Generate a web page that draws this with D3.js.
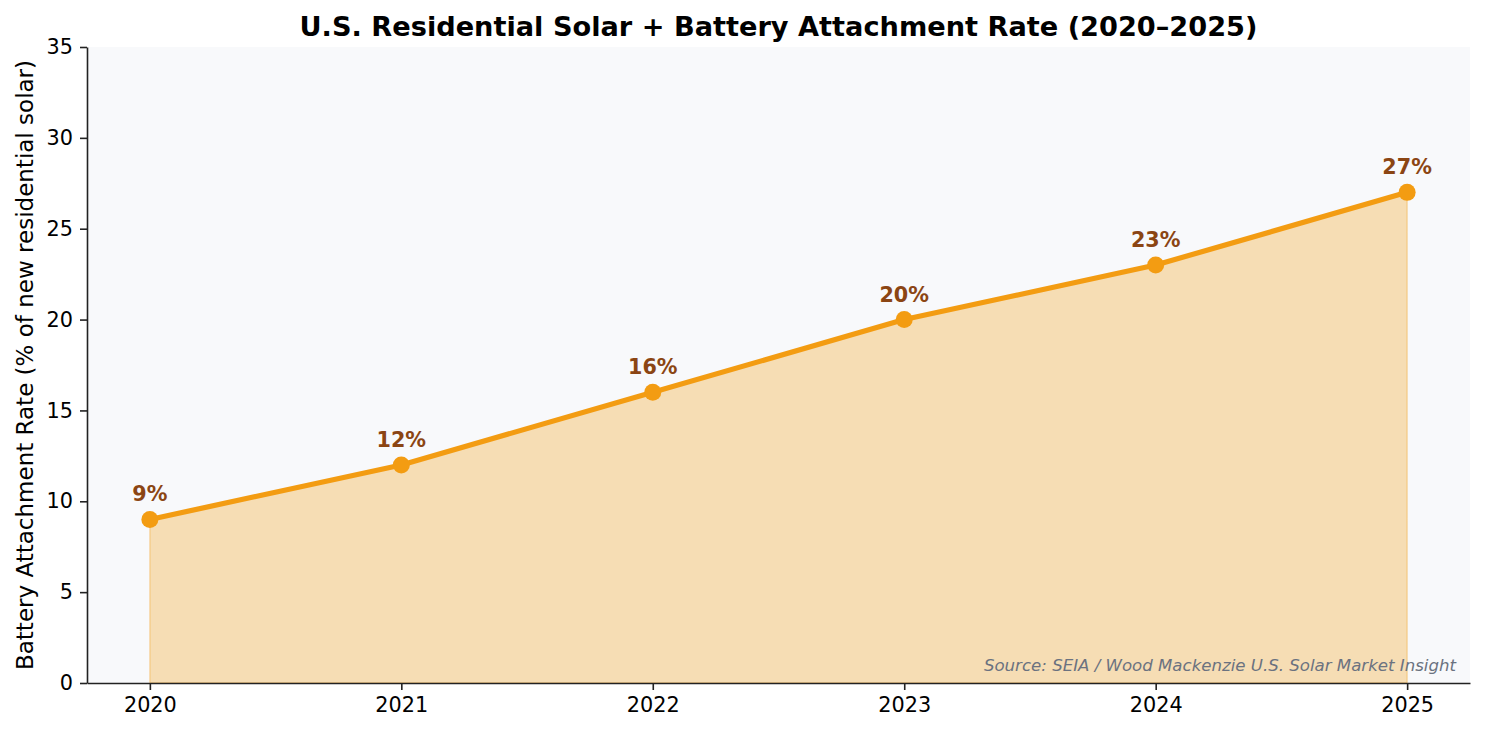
<!DOCTYPE html>
<html>
<head>
<meta charset="utf-8">
<script src="https://cdn.jsdelivr.net/npm/d3@7"></script>
<style>
  body { margin: 0; background: #fff; }
  svg text { font-family: "DejaVu Sans", sans-serif; }
</style>
</head>
<body>
<svg id="chart" width="1485" height="733"></svg>
<script>
// data
var years = [2020, 2021, 2022, 2023, 2024, 2025];
var attachRate = [9, 12, 16, 20, 23, 27];
var yTicks = [0, 5, 10, 15, 20, 25, 30, 35];
var pointLabels = ["9%", "12%", "16%", "20%", "23%", "27%"];

var svg = d3.select("#chart"),
    width = +svg.attr("width"),
    height = +svg.attr("height"),
    margin = {top: 47, right: 15, bottom: 50, left: 87},
    w = width - margin.left - margin.right,
    h = height - margin.top - margin.bottom;

var orange = "#f39c12";

var x = d3.scaleLinear().domain([2019.75, 2025.25]).range([0, w]);
var y = d3.scaleLinear().domain([0, 35]).range([h, 0]);

var g = svg.append("g").attr("transform", "translate(" + margin.left + "," + margin.top + ")");

g.append("rect")
    .attr("width", w)
    .attr("height", h)
    .attr("fill", "#f8f9fb");

var pts = years.map(function (d, i) { return {year: d, v: attachRate[i], label: pointLabels[i]}; });

var area = d3.area()
    .x(function (d) { return x(d.year); })
    .y0(y(0))
    .y1(function (d) { return y(d.v); });

g.append("path")
    .datum(pts)
    .attr("d", area)
    .attr("fill", orange)
    .attr("fill-opacity", 0.3)
    .attr("stroke", orange)
    .attr("stroke-opacity", 0.3)
    .attr("stroke-width", 1.5);

var line = d3.line()
    .x(function (d) { return x(d.year); })
    .y(function (d) { return y(d.v); });

g.append("path")
    .datum(pts)
    .attr("d", line)
    .attr("fill", "none")
    .attr("stroke", orange)
    .attr("stroke-width", 5.2)
    .attr("stroke-linejoin", "round")
    .attr("stroke-linecap", "round");

g.selectAll(".dot")
    .data(pts)
    .enter()
    .append("circle")
        .attr("cx", function (d) { return x(d.year); })
        .attr("cy", function (d) { return y(d.v); })
        .attr("r", 8.5)
        .attr("fill", orange);

g.selectAll(".lbl")
    .data(pts)
    .enter()
    .append("text")
        .attr("x", function (d) { return x(d.year); })
        .attr("y", function (d) { return y(d.v) - 18; })
        .attr("text-anchor", "middle")
        .style("font-size", "20.7px")
        .style("font-weight", "bold")
        .attr("fill", "#8b4513")
        .text(function (d) { return d.label; });

// axes
var xAxis = g.append("g")
    .attr("transform", "translate(0," + h + ")")
    .call(d3.axisBottom(x).tickValues(years).tickFormat(d3.format("d")).tickSizeInner(7).tickSizeOuter(0).tickPadding(7));

var yAxis = g.append("g")
    .call(d3.axisLeft(y).tickValues(yTicks).tickSizeInner(7).tickSizeOuter(0).tickPadding(7));

[xAxis, yAxis].forEach(function (a) {
    a.selectAll("text").style("font-size", "20.8px").attr("fill", "#000");
    a.selectAll("line").attr("stroke", "#222").attr("stroke-width", 1.6);
    a.select(".domain").attr("stroke", "#222").attr("stroke-width", 1.6);
});

// title
svg.append("text")
    .attr("x", margin.left + w / 2)
    .attr("y", 36)
    .attr("text-anchor", "middle")
    .style("font-size", "27.2px")
    .style("font-weight", "bold")
    .text("U.S. Residential Solar + Battery Attachment Rate (2020\u20132025)");

svg.append("text")
    .attr("transform", "translate(33," + (margin.top + h / 2) + ") rotate(-90)")
    .attr("text-anchor", "middle")
    .style("font-size", "23px")
    .text("Battery Attachment Rate (% of new residential solar)");

g.append("text")
    .attr("x", w - 14)
    .attr("y", h - 12)
    .attr("text-anchor", "end")
    .style("font-size", "16.6px")
    .style("font-style", "italic")
    .attr("fill", "#6b7280")
    .text("Source: SEIA / Wood Mackenzie U.S. Solar Market Insight");
</script>
</body>
</html>
